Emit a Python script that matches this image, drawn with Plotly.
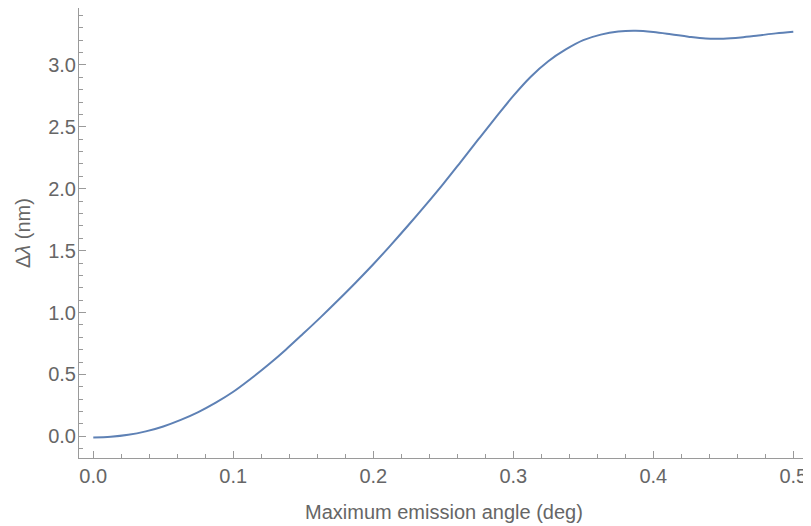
import plotly.graph_objects as go

angle_deg = [0.0, 0.0125, 0.025, 0.0375, 0.05, 0.0625, 0.075, 0.0875, 0.1, 0.1125, 0.125, 0.1375,
             0.15, 0.1625, 0.175, 0.1875, 0.2, 0.2125, 0.225, 0.2375, 0.25, 0.2625, 0.275, 0.2875,
             0.3, 0.3125, 0.325, 0.3375, 0.35, 0.3625, 0.375, 0.3875, 0.4, 0.4125, 0.425, 0.4375,
             0.45, 0.4625, 0.475, 0.4875, 0.5]
delta_lambda = [-0.01, -0.004, 0.012, 0.04, 0.08, 0.133, 0.196, 0.272, 0.36, 0.465, 0.578, 0.70,
                0.83, 0.963, 1.101, 1.243, 1.39, 1.545, 1.705, 1.87, 2.04, 2.218, 2.398, 2.576,
                2.75, 2.905, 3.03, 3.125, 3.20, 3.245, 3.27, 3.276, 3.266, 3.248, 3.228, 3.213,
                3.212, 3.222, 3.238, 3.255, 3.268]

x_ticks = [0.0, 0.1, 0.2, 0.3, 0.4, 0.5]
x_labels = ["0.0", "0.1", "0.2", "0.3", "0.4", "0.5"]
y_ticks = [0.0, 0.5, 1.0, 1.5, 2.0, 2.5, 3.0]
y_labels = ["0.0", "0.5", "1.0", "1.5", "2.0", "2.5", "3.0"]
x_title = "Maximum emission angle (deg)"
y_title = "Δ<i>λ</i> (nm)"

fig = go.Figure()
fig.add_trace(go.Scatter(x=angle_deg, y=delta_lambda, mode="lines",
                         line=dict(color="#5E81B5", width=2, shape="spline", smoothing=1),
                         showlegend=False, hoverinfo="skip"))

axis_color = "#9a9a9a"
label_font = dict(family="Liberation Sans, Arial, sans-serif", size=20, color="#666666")

# page body has an 8px default margin: the figure is sized to fill the rest of the window
fig.update_layout(
    width=803, height=518,
    margin=dict(l=71, r=3, t=0, b=68, pad=0),
    paper_bgcolor="white", plot_bgcolor="white",
    font=label_font,
    xaxis=dict(
        range=[-0.0102, 0.5105], showgrid=False, zeroline=False, automargin=False,
        showline=True, linecolor=axis_color, linewidth=1,
        ticks="inside", ticklen=7, tickcolor=axis_color, tickwidth=1,
        tickvals=x_ticks, ticktext=x_labels, tickfont=label_font, ticklabelstandoff=0,
        minor=dict(dtick=0.02, tick0=0, ticks="inside", ticklen=4, tickcolor=axis_color, showgrid=False),
    ),
    yaxis=dict(
        range=[-0.175, 3.46], showgrid=False, zeroline=False, automargin=False,
        showline=True, linecolor=axis_color, linewidth=1,
        ticks="inside", ticklen=7, tickcolor=axis_color, tickwidth=1,
        tickvals=y_ticks, ticktext=y_labels, tickfont=label_font, ticklabelstandoff=-2,
        minor=dict(dtick=0.1, tick0=0, ticks="inside", ticklen=4, tickcolor=axis_color, showgrid=False),
    ),
    annotations=[
        dict(text=x_title, xref="paper", yref="paper", x=0.5, y=-0.1196,
             xanchor="center", yanchor="middle", showarrow=False, font=label_font),
        dict(text=y_title, xref="paper", yref="paper", x=-0.0768, y=0.5,
             xanchor="center", yanchor="middle", textangle=-90, showarrow=False, font=label_font),
    ],
)

fig.write_html("out.html")
